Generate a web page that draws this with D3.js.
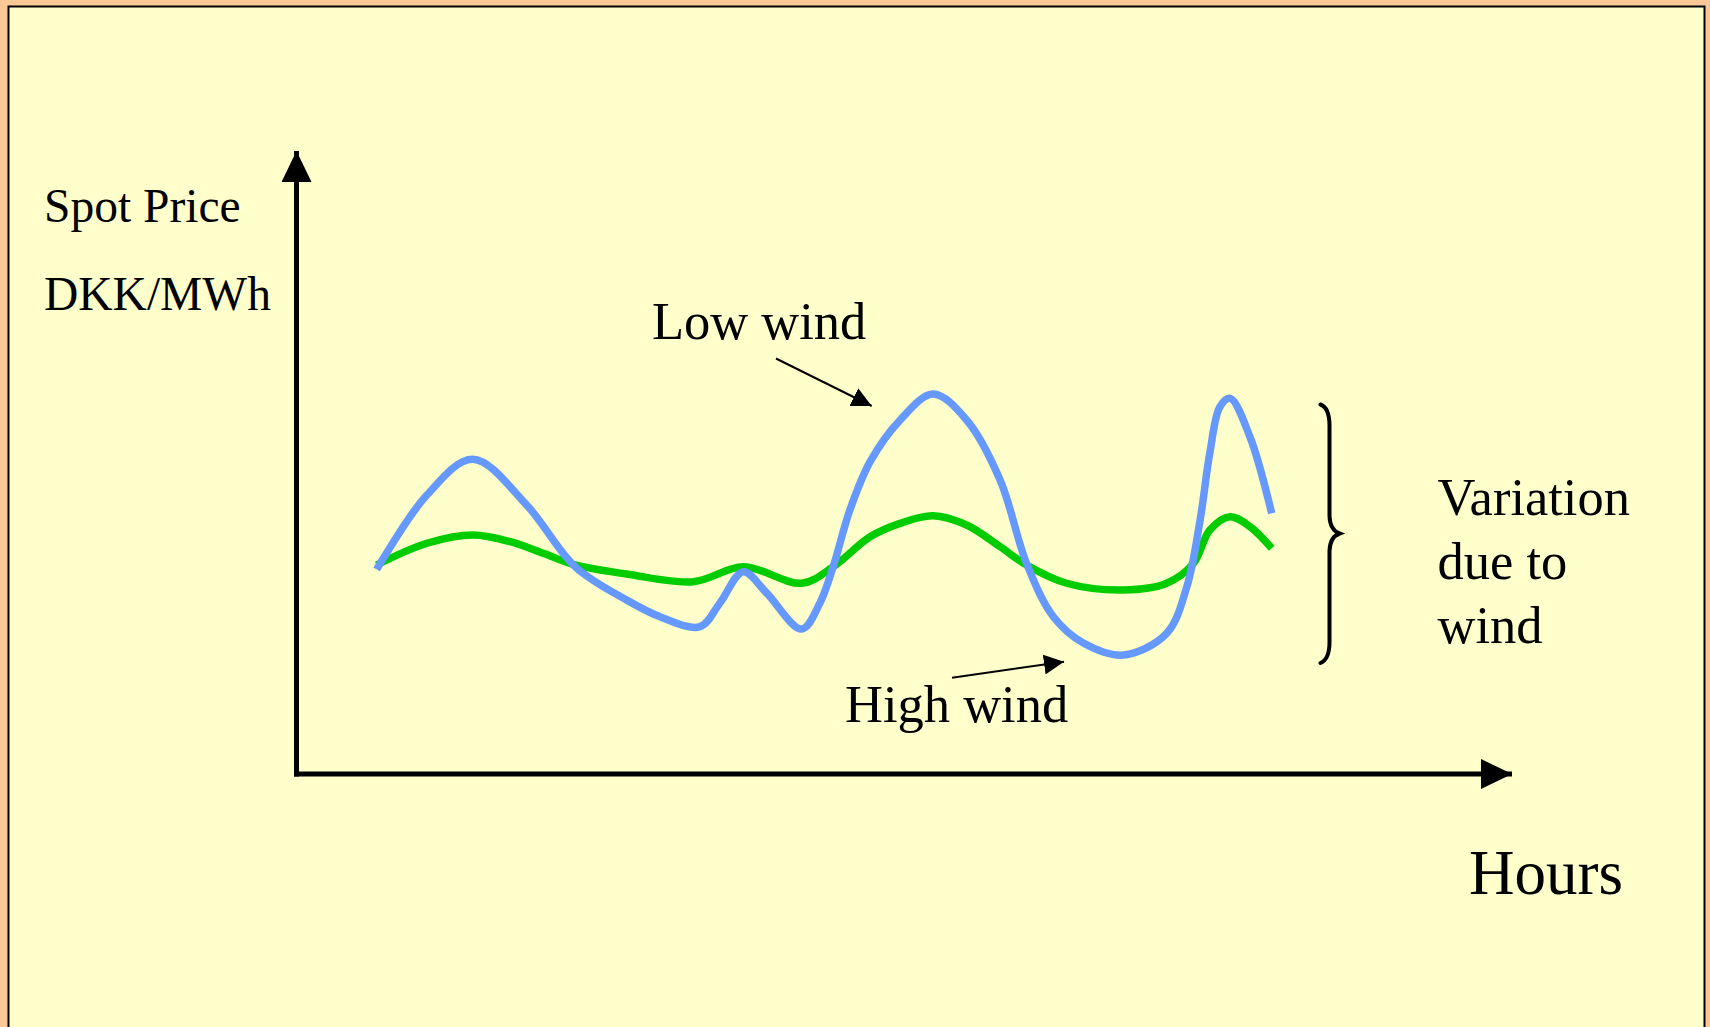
<!DOCTYPE html>
<html>
<head>
<meta charset="utf-8">
<script src="https://cdn.jsdelivr.net/npm/d3@7"></script>
<style>
  html, body { margin: 0; padding: 0; background: #FAC896; }
  svg { display: block; }
  text { font-family: "Liberation Serif", "Times New Roman", serif; fill: #000; }
</style>
</head>
<body>
<svg id="chart" width="1710" height="1027"></svg>
<script>
// Hourly spot price profile on a low-wind day (hour of day, DKK/MWh)
const lowWindHours = [1.00, 2.29, 3.47, 4.85, 6.10, 7.42, 8.28, 9.31, 9.82,
  10.42, 11.02, 11.92, 12.39, 12.73, 13.16, 13.68, 14.45, 15.30, 16.16, 17.02, 17.70,
  18.39, 19.16, 20.19, 21.30, 21.82, 22.16, 22.41, 22.67, 22.93, 23.44, 24.00];
const lowWindPrice = [197.1, 268.7, 303.1, 259.1, 199.6, 167.6, 151.5, 141.9, 164.7,
  194.8, 174.3, 139.6, 164.7, 199.6, 254.3, 300.8, 340.9, 366.0, 340.9, 283.1, 202.9,
  151.5, 126.2, 114.6, 135.5, 180.4, 244.6, 309.2, 353.7, 361.8, 324.8, 251.1];

// Same day profile with high wind production
const highWindHours = [1.00, 2.29, 3.48, 4.43, 5.28, 6.10, 7.42, 9.14, 10.42,
  11.92, 12.73, 13.68, 14.45, 15.30, 16.16, 17.02, 17.70, 18.73, 20.19, 21.30, 21.99,
  22.41, 22.93, 23.44, 24.00];
const highWindPrice = [201.3, 222.2, 230.2, 223.7, 212.6, 201.3, 192.6, 185.2, 199.6,
  183.7, 199.6, 228.5, 241.4, 248.8, 239.8, 218.9, 201.3, 183.7, 177.2, 183.7, 202.9,
  235.0, 247.8, 238.2, 217.4];

const seriesNames = ["Low wind", "High wind"];
const seriesColors = ["#6699FF", "#00CC00"];
const yAxisLabel = ["Spot Price", "DKK/MWh"];
const xAxisLabel = "Hours";
const braceLabel = ["Variation", "due to", "wind"];

const svg = d3.select("#chart");

// Slide panel
svg.append("rect")
  .attr("x", 8.5).attr("y", 6.5)
  .attr("width", 1696).attr("height", 1040)
  .attr("fill", "#FFFFCC")
  .attr("stroke", "#000").attr("stroke-width", 2);

// Axis frame
const origin = { x: 296.5, y: 774 };
const xAxisEnd = 1512;

const x = d3.scaleLinear().domain([0, 24]).range([337.8, 1271.7]);
const y = d3.scaleLinear().domain([0, 600]).range([origin.y, 151]);

const defs = svg.append("defs");
defs.append("marker")
  .attr("id", "bigHead")
  .attr("viewBox", "0 0 31 30")
  .attr("refX", 31).attr("refY", 15)
  .attr("markerUnits", "userSpaceOnUse")
  .attr("markerWidth", 31).attr("markerHeight", 30)
  .attr("orient", "auto")
  .append("path").attr("d", "M0,0 L31,15 L0,30 Z").attr("fill", "#000");
defs.append("marker")
  .attr("id", "smallHead")
  .attr("viewBox", "0 0 20 20")
  .attr("refX", 20).attr("refY", 10)
  .attr("markerUnits", "userSpaceOnUse")
  .attr("markerWidth", 20).attr("markerHeight", 20)
  .attr("orient", "auto")
  .append("path").attr("d", "M0,0 L20,10 L0,20 Z").attr("fill", "#000");

const axes = svg.append("g").attr("fill", "none").attr("stroke", "#000").attr("stroke-width", 5);
axes.append("path")
  .attr("d", `M${origin.x},${origin.y + 2.5} L${origin.x},${y(600)}`)
  .attr("stroke-linecap", "butt")
  .attr("marker-end", "url(#bigHead)");
axes.append("path")
  .attr("d", `M${origin.x - 2.5},${origin.y} L${xAxisEnd},${origin.y}`)
  .attr("marker-end", "url(#bigHead)");

// Price curves
const line = d3.line()
  .x(d => x(d[0]))
  .y(d => y(d[1]))
  .curve(d3.curveCatmullRom.alpha(0.5));

const series = [
  { name: seriesNames[1], color: seriesColors[1], values: d3.zip(highWindHours, highWindPrice) },
  { name: seriesNames[0], color: seriesColors[0], values: d3.zip(lowWindHours, lowWindPrice) }
];

svg.append("g").selectAll("path")
  .data(series)
  .join("path")
  .attr("d", d => line(d.values))
  .attr("fill", "none")
  .attr("stroke", d => d.color)
  .attr("stroke-width", 7.5)
  .attr("stroke-linejoin", "round")
  .attr("stroke-linecap", "butt");

// Axis titles
const yl = svg.append("g").attr("font-size", 47.5);
yl.append("text").attr("x", 44).attr("y", 222).text(yAxisLabel[0]);
yl.append("text").attr("x", 44).attr("y", 310).text(yAxisLabel[1]);

svg.append("text").attr("x", 1469).attr("y", 894).attr("font-size", 63).text(xAxisLabel);

// Series callouts
const callouts = svg.append("g").attr("font-size", 52.5);
callouts.append("text").attr("x", 652).attr("y", 339).text(seriesNames[0]);
callouts.append("text").attr("x", 845).attr("y", 722).text(seriesNames[1]);

const pointers = svg.append("g").attr("stroke", "#000").attr("stroke-width", 2).attr("fill", "none");
pointers.append("line")
  .attr("x1", 776).attr("y1", 358.5).attr("x2", 871.7).attr("y2", 406)
  .attr("marker-end", "url(#smallHead)");
pointers.append("line")
  .attr("x1", 952).attr("y1", 677.7).attr("x2", 1064).attr("y2", 661.7)
  .attr("marker-end", "url(#smallHead)");

// Brace spanning the price spread
svg.append("path")
  .attr("d", "M1320.5,404.5 Q1330,408 1329.5,428 L1329.5,516 Q1330,530 1339.5,533.5 Q1330,537 1329.5,551 L1329.5,640 Q1330,659 1320.5,663")
  .attr("fill", "none")
  .attr("stroke", "#000")
  .attr("stroke-width", 4)
  .attr("stroke-linecap", "round");

const bl = svg.append("g").attr("font-size", 52.5);
braceLabel.forEach((t, i) => {
  bl.append("text").attr("x", 1437.5).attr("y", 515 + i * 63.8).text(t);
});
</script>
</body>
</html>
